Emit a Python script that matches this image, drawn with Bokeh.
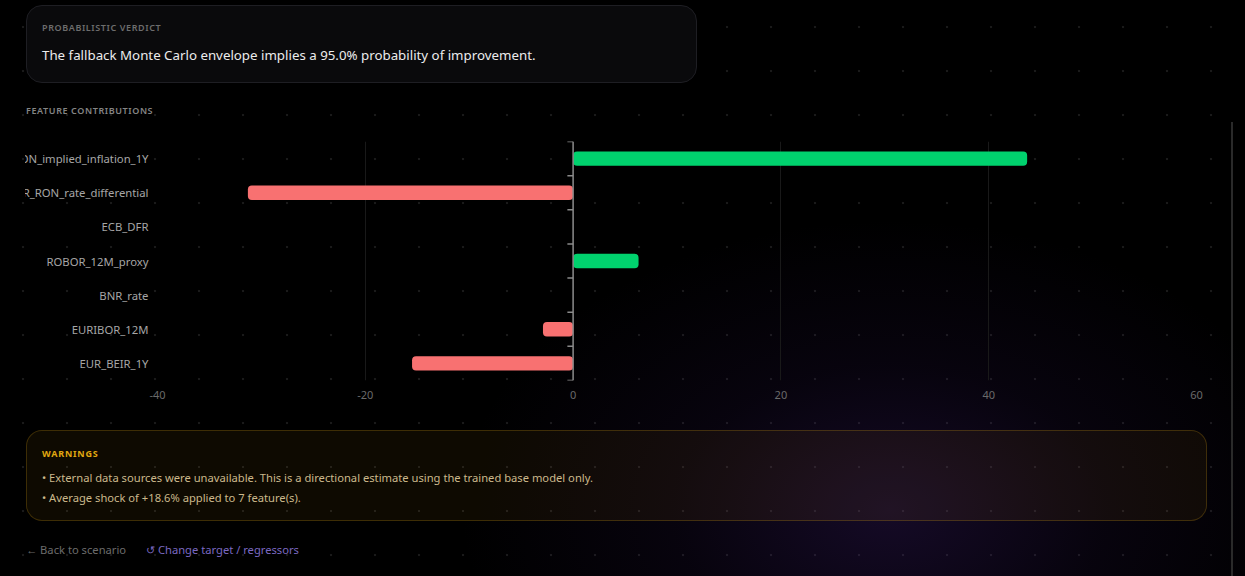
from bokeh.plotting import figure
from bokeh.models import (Div, Span, ColumnDataSource, FactorRange,
                          FixedTicker, GlobalInlineStyleSheet)
from bokeh.layouts import column
from bokeh.embed import file_html
from bokeh.resources import INLINE

# ---------------- data ----------------
features = ["RON_implied_inflation_1Y", "EUR_RON_rate_differential", "ECB_DFR",
            "ROBOR_12M_proxy", "BNR_rate", "EURIBOR_12M", "EUR_BEIR_1Y"]
contributions = [43.7, -31.3, 0.0, 6.3, 0.0, -2.9, -15.5]
x_ticks = [-40, -20, 0, 20, 40, 60]

verdict_label = "PROBABILISTIC VERDICT"
verdict_text = "The fallback Monte Carlo envelope implies a 95.0% probability of improvement."
section_title = "FEATURE CONTRIBUTIONS"
warnings_title = "WARNINGS"
warning_lines = [
    "External data sources were unavailable. This is a directional estimate using the trained base model only.",
    "Average shock of +18.6% applied to 7 feature(s).",
]
link_back = "\u2190 Back to scenario"
link_change = "\u21ba Change target / regressors"

GREEN = "#00d26e"
RED = "#f87171"
FONT = "Noto Sans"

# ---------------- page styling ----------------
page_css = GlobalInlineStyleSheet(css="""
html {
  background-color: #000;
  min-height: 100%;
  background-image:
    radial-gradient(ellipse 430px 290px at 890px 510px, rgba(70,34,128,0.30) 0%, rgba(56,26,104,0.13) 50%, rgba(0,0,0,0) 100%),
    radial-gradient(circle at 22px 22px, rgba(255,255,255,0.10) 0px, rgba(255,255,255,0.10) 0.9px, rgba(0,0,0,0) 1.6px);
  background-size: 100% 100%, 44px 44px;
  background-position: 0 0, 1px 5px;
  background-repeat: no-repeat, repeat;
}
body { background: transparent; }
body::after { content: ''; position: fixed; left: 1231px; top: 122px; width: 2px; height: 470px; background: #2a2a2a; }
""")

# ---------------- verdict card ----------------
verdict = Div(width=671, height=78, margin=(5, 0, 0, 26), stylesheets=[page_css], text=f"""
<div style="position:relative;box-sizing:border-box;width:671px;height:78px;background:#0a0a0c;
            border:1px solid #1e1e23;border-radius:16px;font-family:'{FONT}',sans-serif;">
  <div style="position:absolute;left:15px;top:15px;line-height:14px;font-size:9px;font-weight:600;
              letter-spacing:0.6px;color:#6d6d6d;white-space:nowrap;">{verdict_label}</div>
  <div style="position:absolute;left:15px;top:39px;line-height:20px;font-size:13.3px;color:#ececec;
              white-space:nowrap;">{verdict_text}</div>
</div>""")

section = Div(width=400, height=14, margin=(19, 0, 0, 26), text=f"""
<div style="font-family:'{FONT}',sans-serif;font-size:9px;line-height:14px;font-weight:600;
            letter-spacing:0.6px;color:#858585;white-space:nowrap;">{section_title}</div>""")

# ---------------- chart ----------------
src = ColumnDataSource(dict(
    feature=features,
    value=contributions,
    color=[GREEN if v >= 0 else RED for v in contributions],
))

p = figure(width=1216, height=285,
           y_range=FactorRange(factors=list(reversed(features))),
           x_range=(-40, 60),
           output_backend="svg", toolbar_location=None,
           min_border_left=157, min_border_right=20, min_border_top=18, min_border_bottom=28,
           background_fill_color=None, border_fill_color=None, outline_line_color=None,
           margin=(7, 0, 0, 0))
p.styles = {"clip-path": "inset(0px 0px 0px 25px)"}

p.xaxis.ticker = FixedTicker(ticks=x_ticks)
p.xgrid.ticker = FixedTicker(ticks=x_ticks)
p.xaxis.major_label_overrides = {t: str(t) for t in x_ticks}
p.xgrid.grid_line_color = "#191919"
p.xgrid.grid_line_width = 1
p.ygrid.visible = False
p.xaxis.axis_line_color = None
p.xaxis.major_tick_line_color = None
p.xaxis.minor_tick_line_color = None
p.xaxis.major_label_standoff = 4
p.xaxis.major_label_text_color = "#6a6a6a"
p.xaxis.major_label_text_font = FONT
p.xaxis.major_label_text_font_size = "11px"

p.yaxis.axis_line_color = None
p.yaxis.major_tick_line_color = None
p.yaxis.major_tick_out = 0
p.yaxis.major_tick_in = 0
p.yaxis.major_label_standoff = 9
p.yaxis.major_label_text_color = "#a6a6a6"
p.yaxis.major_label_text_font = FONT
p.yaxis.major_label_text_font_size = "11.3px"

p.hbar(y="feature", left=0, right="value", height=0.42, fill_color="color",
       line_color=None, border_radius=4, source=src)

# zero axis with category-boundary ticks
p.add_layout(Span(location=0, dimension="height", line_color="#8a8a8a", line_width=1.5))
bounds = [(f, 0.5) for f in features] + [(features[-1], -0.5)]
p.segment(x0=-0.55, x1=0, y0=bounds, y1=bounds, line_color="#8a8a8a", line_width=1.5)

# ---------------- warnings card ----------------
lines_html = "".join(
    f'<div style="position:absolute;left:15px;top:{38 + 20 * i}px;line-height:18px;font-size:11.2px;'
    f'color:#cbb98c;white-space:nowrap;">\u2022 {t}</div>'
    for i, t in enumerate(warning_lines))
warn = Div(width=1181, height=91, margin=(22, 0, 0, 26), text=f"""
<div style="position:relative;box-sizing:border-box;width:1181px;height:91px;
            background:rgba(240,175,20,0.06);border:1px solid rgba(214,160,20,0.24);
            border-radius:16px;font-family:'{FONT}',sans-serif;">
  <div style="position:absolute;left:15px;top:16px;line-height:14px;font-size:9px;font-weight:700;
              letter-spacing:0.8px;color:#e0a810;white-space:nowrap;">{warnings_title}</div>
  {lines_html}
</div>""")

links = Div(width=600, height=18, margin=(20, 0, 0, 26), text=f"""
<div style="position:relative;font-family:'{FONT}',sans-serif;font-size:11.2px;line-height:18px;height:18px;">
  <span style="position:absolute;left:0px;top:0;color:#6c6c6c;white-space:nowrap;">{link_back}</span>
  <span style="position:absolute;left:120px;top:0;color:#7b69c2;white-space:nowrap;">{link_change}</span>
</div>""")

layout = column(verdict, section, p, warn, links)

open("out.html", "w").write(file_html(layout, INLINE))
